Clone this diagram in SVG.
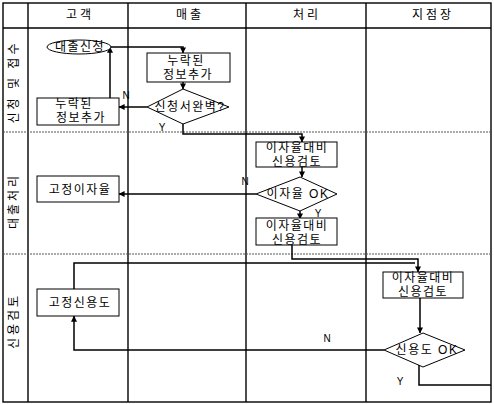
<svg xmlns="http://www.w3.org/2000/svg" width="494" height="404" viewBox="0 0 494 404">
<defs>
<marker id="ah" viewBox="0 0 8 8" refX="7.5" refY="4" markerWidth="6" markerHeight="6" orient="auto" markerUnits="userSpaceOnUse">
<path d="M0,0 L8,4 L0,8 Z" fill="#000"/>
</marker>
<style>
.grid{fill:none;stroke:#000;stroke-width:1.4}
.dash{fill:none;stroke:#555;stroke-width:1.2;stroke-dasharray:2,1}
.box{fill:#fff;stroke:#000;stroke-width:1}
.con{fill:none;stroke:#000;stroke-width:1.5}
.arr{marker-end:url(#ah)}
text{font-family:"Liberation Sans","Noto Sans CJK KR",sans-serif;font-size:12px;fill:#000;text-anchor:middle;dominant-baseline:central;letter-spacing:1.5px}
.lbl{font-family:"Liberation Sans",sans-serif;font-size:10px;letter-spacing:0}
.hd{letter-spacing:3px}
</style>
</defs>
<rect x="0" y="0" width="494" height="404" fill="#fff"/>
<g id="grid">
<rect class="grid" x="3" y="3" width="488" height="399"/>
<line class="grid" x1="3" y1="28" x2="491" y2="28"/>
<line class="grid" x1="28" y1="3" x2="28" y2="402"/>
<line class="grid" x1="128" y1="3" x2="128" y2="402"/>
<line class="grid" x1="246" y1="3" x2="246" y2="402"/>
<line class="grid" x1="366" y1="3" x2="366" y2="402"/>
<line class="dash" x1="3" y1="132" x2="491" y2="132"/>
<line class="dash" x1="3" y1="254" x2="491" y2="254"/>
</g>
<g id="headers">
<text class="hd" x="80" y="15">고객</text>
<text class="hd" x="190" y="15">매출</text>
<text class="hd" x="307" y="15">처리</text>
<text class="hd" x="433" y="15">지점장</text>
<text class="hd" transform="translate(14,82) rotate(-90)">신청 및 접수</text>
<text class="hd" transform="translate(14,201) rotate(-90)">대출처리</text>
<text class="hd" transform="translate(14,321) rotate(-90)">신용검토</text>
</g>
<g id="connectors">
<polyline class="con arr" points="111,47 183,47 183,53"/>
<line class="con arr" x1="183" y1="82" x2="183" y2="89"/>
<line class="con arr" x1="147" y1="107" x2="119" y2="107"/>
<line class="con arr" x1="110" y1="98" x2="110" y2="47"/>
<polyline class="con arr" points="183,124 183,134 302,134 302,142"/>
<line class="con arr" x1="302" y1="167" x2="302" y2="177"/>
<line class="con arr" x1="256" y1="194" x2="119" y2="194"/>
<line class="con arr" x1="300" y1="211" x2="300" y2="219"/>
<polyline class="con arr" points="292,245 292,259 418,259 418,272"/>
<polyline class="con" points="74,289 74,263 415,263"/>
<line class="con arr" x1="420" y1="298" x2="420" y2="333"/>
<polyline class="con arr" points="384,350 74,350 74,316"/>
<polyline class="con" points="419,362 419,385 491,385"/>
</g>
<g id="n1">
<ellipse class="box" cx="79" cy="47" rx="32" ry="7"/>
<text x="80" y="47">대출신청</text>
</g>
<g id="n2">
<rect class="box" x="147" y="53" width="83" height="29"/>
<text x="186" y="61">누락된</text>
<text x="188" y="75">정보추가</text>
</g>
<g id="n3">
<polygon class="box" points="147,107 183,89 229,107 183,124"/>
<text x="190" y="107">신청서완벽?</text>
</g>
<g id="n4">
<rect class="box" x="37" y="98" width="82" height="27"/>
<text x="74" y="104">누락된</text>
<text x="81" y="118">정보추가</text>
</g>
<g id="n5">
<rect class="box" x="256" y="142" width="81" height="25"/>
<text x="297" y="148">이자율대비</text>
<text x="297" y="162">신용검토</text>
</g>
<g id="n6">
<polygon class="box" points="256,194 300,177 337,194 300,211"/>
<text x="298" y="194">이자율 OK</text>
</g>
<g id="n7">
<rect class="box" x="256" y="218" width="81" height="27"/>
<text x="297" y="226">이자율대비</text>
<text x="297" y="240">신용검토</text>
</g>
<g id="n8">
<rect class="box" x="37" y="176" width="82" height="26"/>
<text x="80" y="190">고정이자율</text>
</g>
<g id="n9">
<rect class="box" x="37" y="289" width="82" height="27"/>
<text x="80" y="303">고정신용도</text>
</g>
<g id="n10">
<rect class="box" x="383" y="272" width="80" height="26"/>
<text x="423" y="278">이자율대비</text>
<text x="423" y="292">신용검토</text>
</g>
<g id="n11">
<polygon class="box" points="384,350 423,333 465,350 423,367"/>
<text x="427" y="350">신용도 OK</text>
</g>
<g id="labels">
<text class="lbl" x="126" y="95">N</text>
<text class="lbl" x="162" y="127">Y</text>
<text class="lbl" x="245" y="181">N</text>
<text class="lbl" x="318" y="213">Y</text>
<text class="lbl" x="327" y="338">N</text>
<text class="lbl" x="400" y="381">Y</text>
</g>
</svg>
